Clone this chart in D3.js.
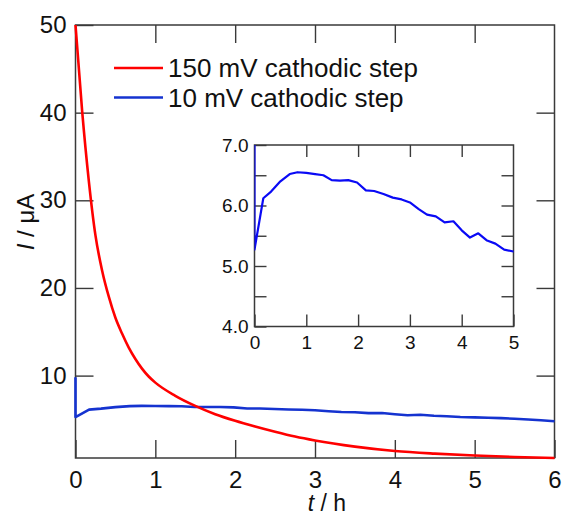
<!DOCTYPE html>
<html><head><meta charset="utf-8">
<script src="https://cdn.jsdelivr.net/npm/d3@7"></script>
<style>
html,body{margin:0;padding:0;background:#fff;}
svg{display:block;font-family:"Liberation Sans",Arial,sans-serif;}
</style></head>
<body><svg id="c" width="563" height="515"></svg>
<script>
// ---- data ----
const redT = [0, 0.083, 0.167, 0.25, 0.333, 0.417, 0.5, 0.583, 0.667, 0.75, 0.833, 0.917, 1.0, 1.25, 1.5, 1.75, 2.0, 2.25, 2.5, 2.75, 3.0, 3.5, 4.0, 4.5, 5.0, 5.5, 6.0];
const redI = [50, 40.2, 32.2, 26.0, 22.0, 19.0, 16.6, 14.8, 13.2, 11.9, 10.8, 9.9, 9.2, 7.7, 6.55, 5.6, 4.85, 4.2, 3.6, 3.05, 2.6, 1.9, 1.4, 1.1, 0.88, 0.72, 0.6];
const blueT = [0, 0, 0.17, 0.32, 0.5, 0.68, 0.83, 1.0, 1.17, 1.33, 1.49, 1.65, 1.81, 1.98, 2.15, 2.31, 2.49, 2.67, 2.84, 3.0, 3.17, 3.33, 3.5, 3.67, 3.84, 4.0, 4.16, 4.32, 4.49, 4.65, 4.82, 5.0, 5.17, 5.33, 5.5, 5.67, 5.83, 6.0];
const blueI = [9.8, 5.27, 6.12, 6.23, 6.40, 6.52, 6.55, 6.54, 6.52, 6.50, 6.42, 6.41, 6.42, 6.38, 6.25, 6.24, 6.19, 6.13, 6.10, 6.05, 5.94, 5.85, 5.82, 5.72, 5.74, 5.59, 5.47, 5.54, 5.42, 5.37, 5.27, 5.24, 5.2, 5.15, 5.08, 5.0, 4.9, 4.8];
const xTicks = [0, 1, 2, 3, 4, 5, 6];
const yTicks = [10, 20, 30, 40, 50];
const insetXTicks = [0, 1, 2, 3, 4, 5];
const insetYTicks = [4.0, 4.5, 5.0, 5.5, 6.0, 6.5, 7.0];
const seriesNames = ["150 mV cathodic step", "10 mV cathodic step"];

// ---- drawing ----
const svg = d3.select("#c");
const axisColor = "#3a3a3a";
const red = "#ff0000", blueMain = "#1533d0", blueInset = "#0a0af5";

const L = 75.5, R = 554.5, T = 25, B = 458;
const x = d3.scaleLinear([0, 6], [L, R]);
const y = d3.scaleLinear([0.6, 50], [B, T]);

function styleAxis(g, fs) {
  g.select(".domain").remove();
  g.selectAll(".tick line").attr("stroke", axisColor).attr("stroke-width", 1.4);
  g.selectAll(".tick text").attr("fill", "#111").style("font-size", fs + "px").style("font-family", '"Liberation Sans",Arial,sans-serif');
}

// main axes
svg.append("g").attr("transform", `translate(0,${B})`)
  .call(d3.axisBottom(x).tickValues(xTicks).tickSize(-18).tickPadding(13).tickFormat(d3.format("d")))
  .call(g => styleAxis(g, 24));
svg.append("g").attr("transform", `translate(0,${T})`)
  .call(d3.axisTop(x).tickValues(xTicks.slice(1, -1)).tickSize(-18).tickFormat(""))
  .call(g => styleAxis(g, 24));
svg.append("g").attr("transform", `translate(${L},0)`)
  .call(d3.axisLeft(y).tickValues(yTicks).tickSize(-18).tickPadding(9).tickFormat(d3.format("d")))
  .call(g => styleAxis(g, 24));
svg.append("g").attr("transform", `translate(${R},0)`)
  .call(d3.axisRight(y).tickValues(yTicks.slice(0, -1)).tickSize(-18).tickFormat(""))
  .call(g => styleAxis(g, 24));
svg.append("rect").attr("x", L).attr("y", T).attr("width", R - L).attr("height", B - T)
  .attr("fill", "none").attr("stroke", axisColor).attr("stroke-width", 1.5);

// axis titles
const yt = svg.append("text").attr("transform", "translate(34,222) rotate(-90)")
  .attr("text-anchor", "middle").style("font-size", "24px").attr("fill", "#111");
yt.append("tspan").style("font-style", "italic").text("I");
yt.append("tspan").text(" / μA");
const xt = svg.append("text").attr("x", 327).attr("y", 511)
  .attr("text-anchor", "middle").style("font-size", "23px").attr("fill", "#111");
xt.append("tspan").style("font-style", "italic").text("t");
xt.append("tspan").text(" / h");

// main lines
const redData = redT.map((t, i) => [t, redI[i]]);
const blueData = blueT.map((t, i) => [t, blueI[i]]);
const lineMain = d3.line().x(d => x(d[0])).y(d => y(d[1]));
svg.append("path").datum(blueData).attr("d", lineMain).attr("fill", "none")
  .attr("stroke", blueMain).attr("stroke-width", 2.6).attr("stroke-linejoin", "round");
svg.append("path").datum(redData).attr("d", d3.line().curve(d3.curveMonotoneX).x(d => x(d[0])).y(d => y(d[1])))
  .attr("fill", "none").attr("stroke", red).attr("stroke-width", 2.6);

// legend
const legColors = [red, blueMain];
seriesNames.forEach((name, i) => {
  const ly = 68 + i * 29.5;
  svg.append("line").attr("x1", 114).attr("x2", 163).attr("y1", ly).attr("y2", ly)
    .attr("stroke", legColors[i]).attr("stroke-width", 2.6);
  svg.append("text").attr("x", 168).attr("y", ly + 9).style("font-size", "26px")
    .attr("fill", "#111").text(name);
});

// inset
const iL = 254.5, iR = 513.5, iT = 145, iB = 326.5;
const xi = d3.scaleLinear([0, 5], [iL, iR]);
const yi = d3.scaleLinear([4, 7], [iB, iT]);
svg.append("rect").attr("x", iL).attr("y", iT).attr("width", iR - iL).attr("height", iB - iT).attr("fill", "#fff");
svg.append("defs").append("clipPath").attr("id", "ic").append("rect")
  .attr("x", iL).attr("y", iT).attr("width", iR - iL).attr("height", iB - iT);
svg.append("g").attr("transform", `translate(0,${iB})`)
  .call(d3.axisBottom(xi).tickValues(insetXTicks).tickSize(-12).tickPadding(9).tickFormat(d3.format("d")))
  .call(g => styleAxis(g, 19));
svg.append("g").attr("transform", `translate(0,${iT})`)
  .call(d3.axisTop(xi).tickValues(insetXTicks.slice(1, -1)).tickSize(-12).tickFormat(""))
  .call(g => styleAxis(g, 19));
svg.append("g").attr("transform", `translate(${iL},0)`)
  .call(d3.axisLeft(yi).tickValues(insetYTicks).tickSize(-12).tickPadding(6)
    .tickFormat(d => Number.isInteger(d) ? d3.format(".1f")(d) : ""))
  .call(g => styleAxis(g, 19));
svg.append("g").attr("transform", `translate(${iR},0)`)
  .call(d3.axisRight(yi).tickValues(insetYTicks.slice(1, -1)).tickSize(-12).tickFormat(""))
  .call(g => styleAxis(g, 19));
svg.append("rect").attr("x", iL).attr("y", iT).attr("width", iR - iL).attr("height", iB - iT)
  .attr("fill", "none").attr("stroke", axisColor).attr("stroke-width", 1.5);
svg.append("path").datum(blueData).attr("clip-path", "url(#ic)")
  .attr("d", d3.line().x(d => xi(d[0])).y(d => yi(d[1])))
  .attr("fill", "none").attr("stroke", blueInset).attr("stroke-width", 2.2).attr("stroke-linejoin", "round");
</script></body></html>
